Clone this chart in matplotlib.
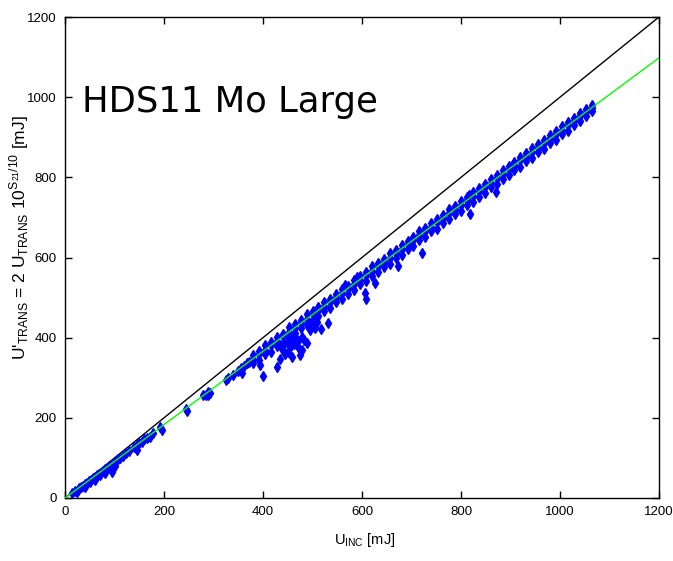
import matplotlib.pyplot as plt

# ---- data ----
line_x = [0, 1200]
unity_y = [0, 1200]
fit_y = [0, 1098]

band_x = [380, 392, 404, 416, 428, 440, 452, 464, 476, 488, 500, 512, 524, 536, 548,
          560, 572, 584, 596, 608, 620, 632, 644, 656, 668, 680, 692, 704, 716, 728,
          740, 752, 764, 776, 788, 800, 812, 824, 836, 848, 860, 872, 884, 896, 908,
          920, 932, 944, 956, 968, 980, 992, 1004, 1016, 1028, 1040, 1052, 1064]
band_hi = [357, 366, 381, 389, 402, 409, 426, 434, 443, 458, 466, 476, 490, 497, 510,
           522, 530, 544, 553, 563, 578, 586, 597, 611, 618, 632, 641, 652, 665, 673,
           686, 697, 706, 720, 729, 741, 751, 763, 773, 784, 797, 805, 818, 829, 838,
           851, 861, 872, 884, 894, 906, 916, 928, 939, 949, 961, 971, 980]
band_mid = [348, 359, 370, 381, 392, 403, 414, 425, 436, 447, 458, 468, 479, 490, 501,
            512, 523, 534, 545, 556, 567, 578, 589, 600, 611, 622, 633, 644, 655, 666,
            677, 688, 699, 710, 721, 732, 743, 754, 765, 776, 787, 798, 809, 820, 831,
            842, 853, 864, 875, 886, 897, 908, 919, 930, 941, 952, 963, 974]
band_lo = [336, 344, 360, 364, 379, 387, 403, 411, 424, 431, 445, 454, 467, 474, 489,
           497, 510, 518, 533, 541, 555, 563, 577, 584, 599, 606, 620, 628, 643, 650,
           665, 672, 686, 695, 708, 717, 731, 739, 752, 761, 775, 783, 796, 805, 818,
           827, 840, 849, 862, 871, 885, 894, 907, 916, 930, 940, 952, 966]

low_x = [15, 20, 24, 28, 32, 36, 40, 44, 48, 52, 56, 60, 64, 68, 72, 76, 80, 84, 88,
         92, 96, 100, 104, 108, 112, 118, 124, 130, 94, 60, 40, 100, 80, 26, 50, 70,
         140, 146, 150, 156, 160, 165, 172, 178, 145, 195, 192, 246, 244, 279, 284,
         289, 293, 288, 326, 330, 340, 350, 356, 362, 368, 372, 357]
low_y = [12, 18, 16, 24, 27, 30, 35, 38, 42, 45, 50, 52, 57, 60, 63, 67, 72, 74, 79,
         82, 85, 90, 93, 97, 100, 106, 112, 118, 66, 46, 28, 80, 62, 19, 40, 58,
         128, 133, 136, 140, 146, 150, 153, 161, 120, 170, 176, 218, 222, 257, 258,
         257, 261, 264, 294, 300, 308, 318, 325, 330, 336, 340, 313]

out_x = [400, 428, 434, 441, 451, 455, 458, 471, 478, 478, 488, 492, 495, 518, 532,
         566, 589, 606, 608, 626, 673, 722, 818, 871, 394, 817, 430, 475, 458,
         440, 448, 462, 466, 445, 470, 482, 438, 456, 500, 510, 505]
out_y = [304, 326, 348, 369, 365, 394, 351, 377, 369, 402, 386, 432, 419, 421, 437,
         531, 552, 511, 496, 536, 579, 612, 709, 763, 332, 756, 386, 357, 402,
         380, 390, 385, 398, 360, 392, 395, 372, 378, 430, 440, 425]

xticks = [0, 200, 400, 600, 800, 1000, 1200]
yticks = [0, 200, 400, 600, 800, 1000, 1200]

tick_font = 'Liberation Sans'

fig = plt.figure(figsize=(6.73, 5.61), dpi=100)
ax = fig.add_axes([65 / 673, 1 - 498 / 561, 594 / 673, 481 / 561])

ax.plot(line_x, unity_y, color='black', linewidth=1.0, zorder=1)
xs = band_x * 3 + low_x + out_x
ys = band_hi + band_mid + band_lo + low_y + out_y
ax.plot(xs, ys, linestyle='none', marker='d', markersize=5.5,
        markerfacecolor='#0000ff', markeredgecolor='#0000ff', zorder=2)
ax.plot(line_x, fit_y, color='#00ff00', linewidth=1.0, zorder=3)

ax.set_xlim(0, 1200)
ax.set_ylim(0, 1200)
ax.set_xticks(xticks)
ax.set_yticks(yticks)
ax.tick_params(direction='in', length=5, width=1, top=True, right=True,
               labelsize=9.5, pad=6)
for lab in ax.get_xticklabels() + ax.get_yticklabels():
    lab.set_family(tick_font)
for s in ax.spines.values():
    s.set_linewidth(1.0)

ax.set_xlabel(r'U$_{\mathregular{INC}}$ [mJ]', fontsize=10.5, family=tick_font)
ax.xaxis.set_label_coords((365 - 65) / 594, (498 - 531) / 481)
ax.set_ylabel(r"U'$_{\mathregular{TRANS}}$ = 2 U$_{\mathregular{TRANS}}$ 10$^{\mathregular{S_{21}/10}}$ [mJ]",
              fontsize=12.5, family='Liberation Sans')
ax.yaxis.set_label_coords((31 - 65) / 594, (498 - 238) / 481)

fig.text(82 / 673, 1 - 112 / 561, 'HDS11 Mo Large', fontsize=25.5, family='DejaVu Sans')

fig.savefig('out.png', dpi=100)
